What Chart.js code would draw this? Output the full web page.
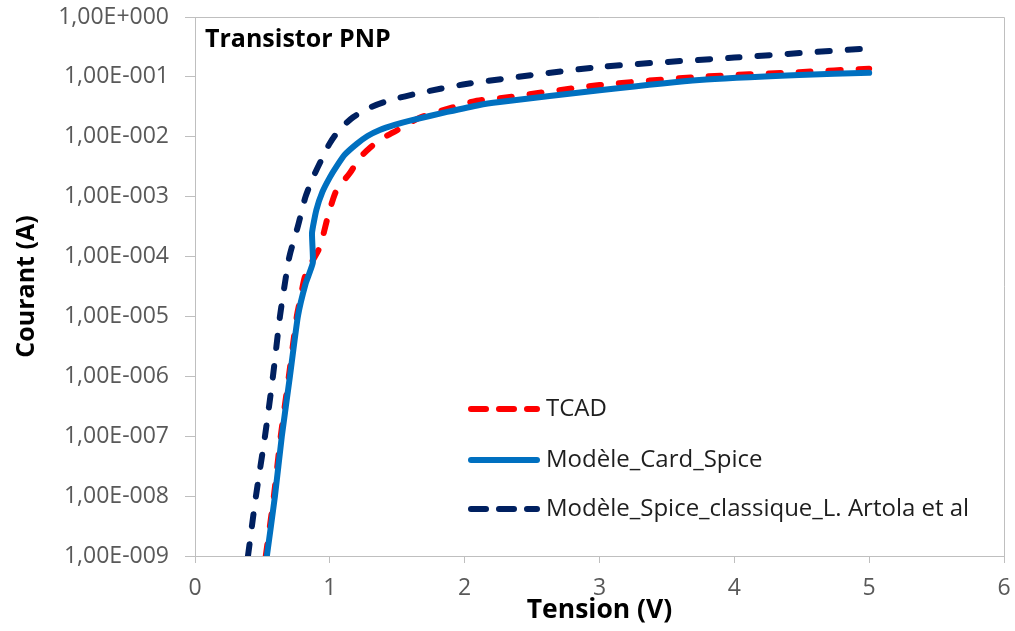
<!DOCTYPE html>
<html>
<head>
<meta charset="utf-8">
<script src="https://cdn.jsdelivr.net/npm/chart.js@4.4.0/dist/chart.umd.min.js"></script>
<style>
html,body{margin:0;padding:0;background:#fff;}
#wrap{width:1015px;height:631px;position:relative;}
</style>
</head>
<body>
<div id="wrap"><canvas id="c" width="1015" height="631"></canvas></div>
<script>
// ---- Data ----
const chartTitle = 'Transistor PNP';
const xAxisTitle = 'Tension (V)';
const yAxisTitle = 'Courant (A)';
const seriesNames = ['TCAD', 'Modèle_Card_Spice', 'Modèle_Spice_classique_L. Artola et al'];

const tcadV = [0.525, 0.585, 0.636, 0.696, 0.755, 0.78, 0.815, 0.867, 0.926, 0.985, 1.04, 1.09, 1.15, 1.22, 1.30, 1.38, 1.47, 1.67, 1.91, 2.09, 2.26, 3.0, 3.74, 4.48, 5.0];
const tcadI = [1e-9, 1e-8, 1e-7, 1e-6, 1e-5, 1.9e-5, 4.6e-5, 8.1e-5, 1.45e-4, 4.6e-4, 1.15e-3, 1.7e-3, 2.5e-3, 4.4e-3, 6.6e-3, 9.2e-3, 0.0118, 0.021, 0.031, 0.040, 0.044, 0.073, 0.100, 0.120, 0.137];

const cardV = [0.533, 0.593, 0.644, 0.704, 0.763, 0.82, 0.874, 0.868, 0.90, 0.945, 1.0, 1.05, 1.11, 1.20, 1.28, 1.37, 1.48, 1.61, 1.87, 2.11, 2.26, 3.0, 3.74, 4.48, 5.0];
const cardI = [1e-9, 1e-8, 1e-7, 1e-6, 1e-5, 3.5e-5, 7.9e-5, 2.5e-4, 6e-4, 1.2e-3, 2.1e-3, 3.2e-3, 5.0e-3, 7.6e-3, 0.0103, 0.013, 0.0158, 0.019, 0.026, 0.034, 0.038, 0.060, 0.089, 0.108, 0.117];

const artolaV = [0.393, 0.452, 0.519, 0.578, 0.63, 0.667, 0.70, 0.763, 0.82, 0.88, 0.948, 1.0, 1.07, 1.17, 1.30, 1.45, 1.67, 2.01, 3.0, 4.0, 5.0];
const artolaI = [1e-9, 1e-8, 1e-7, 1e-6, 1e-5, 3.6e-5, 1e-4, 3.2e-4, 1e-3, 2.2e-3, 4.6e-3, 7.8e-3, 0.013, 0.021, 0.031, 0.041, 0.054, 0.076, 0.146, 0.21, 0.30];

const yTickValues = [1e-9, 1e-8, 1e-7, 1e-6, 1e-5, 1e-4, 1e-3, 1e-2, 1e-1, 1];
const xTickValues = [0, 1, 2, 3, 4, 5, 6];

// ---- Helpers ----
function toPoints(xs, ys) { return xs.map((x, i) => ({x: x, y: ys[i]})); }
function sciLabel(v) {
  const e = Math.round(Math.log10(v));
  return '1,00E' + (e >= 0 ? '+' : '-') + String(Math.abs(e)).padStart(3, '0');
}

const FONT = "'Open Sans', 'DejaVu Sans', sans-serif";

const decorPlugin = {
  id: 'decor',
  beforeDatasetsDraw(chart) {
    const {ctx, chartArea: a} = chart;
    ctx.save();
    ctx.strokeStyle = '#BFBFBF';
    ctx.lineWidth = 1;
    ctx.beginPath();
    ctx.moveTo(a.left, a.top + 0.5);
    ctx.lineTo(a.right + 0.5, a.top + 0.5);
    ctx.lineTo(a.right + 0.5, a.bottom);
    ctx.stroke();
    ctx.restore();
  },
  afterDatasetsDraw(chart) {
    const {ctx, chartArea: a} = chart;
    ctx.save();
    // chart title inside plot area
    ctx.fillStyle = '#000';
    ctx.font = "bold 25px " + FONT;
    ctx.textBaseline = 'middle';
    ctx.textAlign = 'left';
    ctx.fillText(chartTitle, a.left + 10, a.top + 23);
    // legend inside plot area
    const rowsY = [409, 460, 509];
    const lineX0 = 471, lineX1 = 537, textX = 546;
    chart.data.datasets.forEach((ds, i) => {
      const y = rowsY[i];
      ctx.save();
      ctx.strokeStyle = ds.borderColor;
      ctx.lineWidth = ds.borderWidth;
      ctx.lineCap = 'round';
      ctx.setLineDash(ds.borderDash && ds.borderDash.length ? [15, 13] : []);
      ctx.beginPath();
      ctx.moveTo(lineX0, y);
      ctx.lineTo(lineX1, y);
      ctx.stroke();
      ctx.restore();
      ctx.fillStyle = '#1e1e1e';
      ctx.font = "24px " + FONT;
      ctx.textBaseline = 'middle';
      ctx.textAlign = 'left';
      ctx.fillText(ds.label, textX, y);
    });
    ctx.restore();
  }
};

new Chart(document.getElementById('c'), {
  type: 'scatter',
  data: {
    datasets: [
      {
        label: seriesNames[0],
        data: toPoints(tcadV, tcadI),
        showLine: true,
        borderColor: '#FF0000',
        backgroundColor: '#FF0000',
        borderWidth: 6,
        borderDash: [12, 18],
        borderCapStyle: 'round',
        pointRadius: 0,
        tension: 0.25,
        order: 1
      },
      {
        label: seriesNames[1],
        data: toPoints(cardV, cardI),
        showLine: true,
        borderColor: '#0070C0',
        backgroundColor: '#0070C0',
        borderWidth: 6,
        borderCapStyle: 'round',
        pointRadius: 0,
        tension: 0.15,
        order: 0
      },
      {
        label: seriesNames[2],
        data: toPoints(artolaV, artolaI),
        showLine: true,
        borderColor: '#002060',
        backgroundColor: '#002060',
        borderWidth: 6,
        borderDash: [12, 18],
        borderCapStyle: 'round',
        pointRadius: 0,
        tension: 0.25,
        order: 2
      }
    ]
  },
  options: {
    responsive: false,
    animation: false,
    devicePixelRatio: 1,
    layout: {padding: {left: 0, right: 11, top: 17, bottom: 0}},
    plugins: {
      legend: {display: false},
      tooltip: {enabled: false},
      title: {display: false}
    },
    scales: {
      x: {
        type: 'linear',
        min: 0,
        max: 6,
        afterBuildTicks: s => { s.ticks = xTickValues.map(v => ({value: v})); },
        afterFit: s => { s.height = 75; s.paddingLeft = 0; s.paddingRight = 0; },
        ticks: {
          color: '#595959',
          font: {family: FONT, size: 23},
          padding: 12,
          maxRotation: 0
        },
        grid: {drawOnChartArea: false, drawTicks: true, tickLength: 7, color: '#BFBFBF'},
        border: {display: true, color: '#BFBFBF', width: 1},
        title: {
          display: true,
          text: xAxisTitle,
          color: '#000',
          font: {family: FONT, size: 26.5, weight: 'bold'},
          padding: {top: 0, bottom: 5}
        }
      },
      y: {
        type: 'logarithmic',
        min: 1e-9,
        max: 1,
        afterBuildTicks: s => { s.ticks = yTickValues.map(v => ({value: v})); },
        afterFit: s => { s.width = 195; s.paddingTop = 0; s.paddingBottom = 0; },
        ticks: {
          color: '#595959',
          font: {family: FONT, size: 23},
          padding: 16,
          callback: v => sciLabel(v)
        },
        grid: {drawOnChartArea: false, drawTicks: true, tickLength: 10, color: '#BFBFBF'},
        border: {display: true, color: '#BFBFBF', width: 1},
        title: {
          display: true,
          text: yAxisTitle,
          color: '#000',
          font: {family: FONT, size: 25, weight: 'bold'},
          padding: {top: 12, bottom: 0}
        }
      }
    }
  },
  plugins: [decorPlugin]
});
</script>
</body>
</html>
